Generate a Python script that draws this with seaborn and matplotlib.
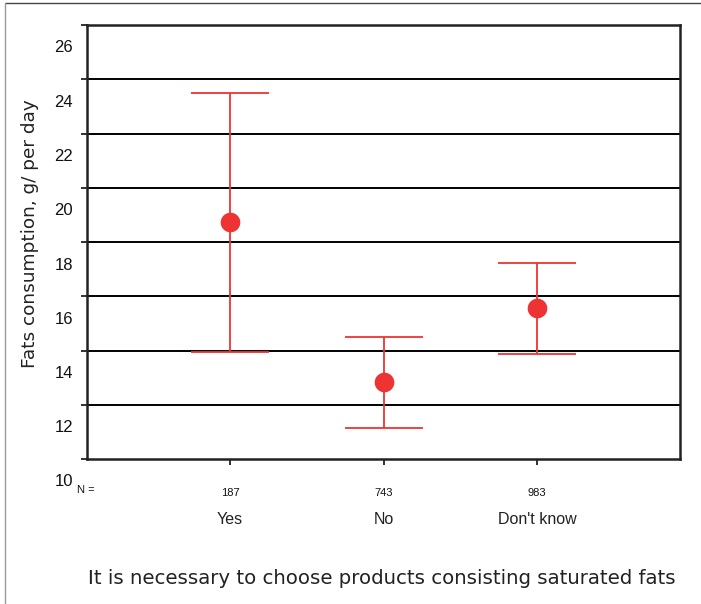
import numpy as np
import pandas as pd
import matplotlib
matplotlib.use('Agg')
import matplotlib.pyplot as plt
from matplotlib.transforms import ScaledTranslation
from matplotlib.lines import Line2D
import seaborn as sns

## Values
groups = ['Yes', 'No', "Don't know"]
n_counts = ['187', '743', '983']
means = [18.73, 12.85, 15.56]
lower = [13.96, 11.15, 13.88]
upper = [23.48, 14.51, 17.24]
yticks = [10, 12, 14, 16, 18, 20, 22, 24, 26]

df = pd.DataFrame({'group': groups, 'mean': means, 'lo': lower, 'hi': upper})
df['pos'] = np.arange(len(df))

sns.set_style('white')
plt.rcParams['font.family'] = ['Liberation Sans', 'DejaVu Sans']

fig = plt.figure(figsize=(7.01, 6.04), dpi=100)
ax = fig.add_axes([87/701, 1-459/604, 593/701, 434/604])

red = '#ee3333'
ax.errorbar(df['pos'], df['mean'],
            yerr=[df['mean']-df['lo'], df['hi']-df['mean']],
            fmt='none', ecolor=red, elinewidth=1.3, capsize=28, capthick=1.3, zorder=3)
sns.scatterplot(data=df, x='pos', y='mean', color=red, s=200, linewidth=0, ax=ax, zorder=4, legend=False)

# horizontal grid lines
for v in yticks[1:-1]:
    ax.axhline(v, color='black', linewidth=1.4, zorder=1)

ax.set_xlim(-0.932, 2.932)
ax.set_ylim(10, 26)
for s in ax.spines.values():
    s.set_color('#222222')
    s.set_linewidth(1.8)

ax.set_xticks(df['pos'])
ax.set_xticklabels(n_counts, fontsize=8, color='#111111')
ax.set_yticks(yticks)
ax.set_yticklabels([str(v) for v in yticks], fontsize=12, color='#111111')
ax.tick_params(axis='both', direction='out', length=4, width=1.3, color='#222222', left=True, bottom=True)
ax.tick_params(axis='x', pad=17)
ax.tick_params(axis='y', pad=6)
ax.set_xlabel('')
ax.set_ylabel('')

# SPSS-style offset of the y tick labels
off = ScaledTranslation(0, -0.215, fig.dpi_scale_trans)
for lab in ax.get_yticklabels():
    lab.set_transform(lab.get_transform() + off)

# category names below N counts
for p, g in zip(df['pos'], groups):
    ax.annotate(g, xy=(p, 0), xycoords=('data', 'axes fraction'), xytext=(0, -61),
                textcoords='offset pixels', ha='center', va='center', fontsize=11.5, color='#222222')
fig.text(86/701, 1-490/604, 'N =', ha='center', va='center', fontsize=8, color='#111111')

fig.text(30/701, 1-234/604, 'Fats consumption, g/ per day', rotation=90,
         ha='center', va='center', fontsize=13.3, family='DejaVu Sans', color='#222222')
fig.text(382/701, 1-578/604, 'It is necessary to choose products consisting saturated fats',
         ha='center', va='center', fontsize=14.2, family='DejaVu Sans', color='#222222')

# outer frame edges
fig.add_artist(Line2D([5/701, 1], [1-3/604, 1-3/604], color='#444444', linewidth=1))
fig.add_artist(Line2D([5/701, 5/701], [0, 1-3/604], color='#999999', linewidth=1))

plt.savefig('out.png', dpi=100, facecolor='white')
